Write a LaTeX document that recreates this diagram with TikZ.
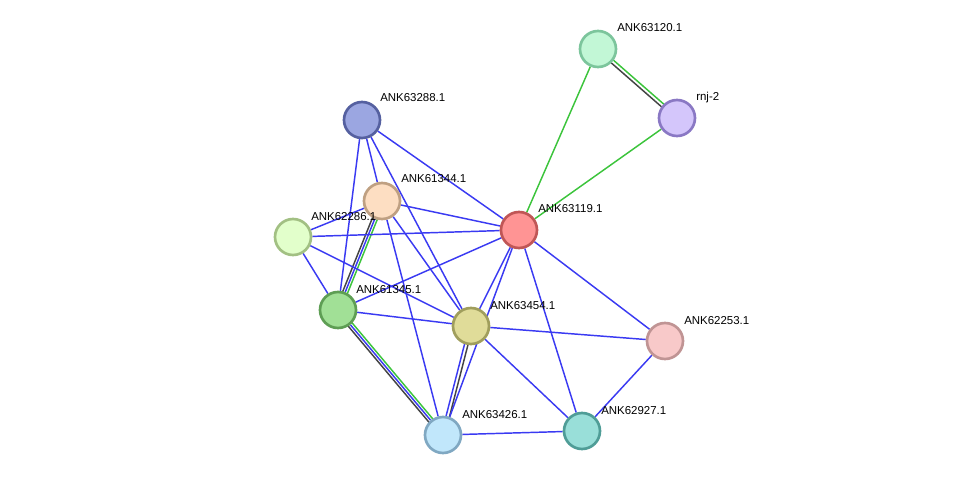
\documentclass[tikz,border=0pt]{standalone}
\usepackage{fontspec}
\setmainfont{Liberation Sans}
\usepackage{tikz}
\usetikzlibrary{calc,backgrounds}
\definecolor{EdgeBlue}{HTML}{3A3AF2}
\definecolor{EdgeGreen}{HTML}{3CC43C}
\definecolor{EdgeBlack}{HTML}{444444}
\definecolor{FillMint}{HTML}{C2F7D6}
\definecolor{LineMint}{HTML}{7CC59C}
\definecolor{FillLilac}{HTML}{D4C6FB}
\definecolor{LineLilac}{HTML}{8A78C4}
\definecolor{FillSlate}{HTML}{9BA6E1}
\definecolor{LineSlate}{HTML}{5560A0}
\definecolor{FillPeach}{HTML}{FDDEC2}
\definecolor{LinePeach}{HTML}{BFA082}
\definecolor{FillLime}{HTML}{E2FFCB}
\definecolor{LineLime}{HTML}{A2C083}
\definecolor{FillRed}{HTML}{FF9494}
\definecolor{LineRed}{HTML}{C05656}
\definecolor{FillGreen}{HTML}{A1E096}
\definecolor{LineGreen}{HTML}{5E9E54}
\definecolor{FillOlive}{HTML}{E0DC99}
\definecolor{LineOlive}{HTML}{A09E5C}
\definecolor{FillPink}{HTML}{F8C9C9}
\definecolor{LinePink}{HTML}{C09494}
\definecolor{FillSky}{HTML}{C1E7FB}
\definecolor{LineSky}{HTML}{80A8C2}
\definecolor{FillTeal}{HTML}{99DFD9}
\definecolor{LineTeal}{HTML}{4F9D97}

\begin{document}
\begin{tikzpicture}[x=0.75pt,y=-0.75pt,
  prot/.style={circle,line width=2pt,minimum size=27pt,inner sep=0pt},
  lbl/.style={anchor=base west,font=\fontsize{8.6pt}{10pt}\selectfont,inner sep=0pt},
  eblue/.style={draw=EdgeBlue,line width=1.1pt},
  egreen/.style={draw=EdgeGreen,line width=1.1pt},
  eblack/.style={draw=EdgeBlack,line width=1.1pt}
]
\useasboundingbox (0,0) rectangle (975,481);

\node[prot,fill=FillMint,draw=LineMint] (p63120) at (598,49) {};
\node[prot,fill=FillLilac,draw=LineLilac] (rnj2) at (677,118) {};
\node[prot,fill=FillSlate,draw=LineSlate] (p63288) at (362,120) {};
\node[prot,fill=FillPeach,draw=LinePeach] (p61344) at (382,201) {};
\node[prot,fill=FillLime,draw=LineLime] (p62286) at (293,237) {};
\node[prot,fill=FillRed,draw=LineRed] (p63119) at (519,230) {};
\node[prot,fill=FillGreen,draw=LineGreen] (p61345) at (338,310) {};
\node[prot,fill=FillOlive,draw=LineOlive] (p63454) at (471,326) {};
\node[prot,fill=FillPink,draw=LinePink] (p62253) at (665,341) {};
\node[prot,fill=FillSky,draw=LineSky] (p63426) at (443,435) {};
\node[prot,fill=FillTeal,draw=LineTeal] (p62927) at (582,431) {};

\node[lbl] (t63120) at (617,32) {ANK63120.1};
\node[lbl] (trnj2) at (696,101) {rnj-2};
\node[lbl] (t63288) at (380,102) {ANK63288.1};
\node[lbl] (t61344) at (401,183) {ANK61344.1};
\node[lbl] (t62286) at (311,220) {ANK62286.1};
\node[lbl] (t63119) at (538,213) {ANK63119.1};
\node[lbl] (t61345) at (356,293) {ANK61345.1};
\node[lbl] (t63454) at (490,309) {ANK63454.1};
\node[lbl] (t62253) at (684,324) {ANK62253.1};
\node[lbl] (t63426) at (462,418) {ANK63426.1};
\node[lbl] (t62927) at (601,414) {ANK62927.1};

\begin{scope}[on background layer]
% green / black pairs at the top
\draw[egreen] ($(p63120)!1.3pt!90:(rnj2)$) -- ($(rnj2)!1.3pt!-90:(p63120)$);
\draw[eblack] ($(p63120)!1.3pt!-90:(rnj2)$) -- ($(rnj2)!1.3pt!90:(p63120)$);
\draw[egreen] (p63120) -- (p63119);
\draw[egreen] (rnj2) -- (p63119);

% triple links
\draw[eblack] ($(p61344)!1.9pt!-90:(p61345)$) -- ($(p61345)!1.9pt!90:(p61344)$);
\draw[eblue] (p61344) -- (p61345);
\draw[egreen] ($(p61344)!1.9pt!90:(p61345)$) -- ($(p61345)!1.9pt!-90:(p61344)$);
\draw[eblack] ($(p61345)!1.9pt!-90:(p63426)$) -- ($(p63426)!1.9pt!90:(p61345)$);
\draw[eblue] (p61345) -- (p63426);
\draw[egreen] ($(p61345)!1.9pt!90:(p63426)$) -- ($(p63426)!1.9pt!-90:(p61345)$);
\draw[eblue] ($(p63454)!1.3pt!-90:(p63426)$) -- ($(p63426)!1.3pt!90:(p63454)$);
\draw[eblack] ($(p63454)!1.3pt!90:(p63426)$) -- ($(p63426)!1.3pt!-90:(p63454)$);

% blue links
\draw[eblue] (p63288) -- (p63119);
\draw[eblue] (p63288) -- (p61345);
\draw[eblue] (p63288) -- (p61344);
\draw[eblue] (p63288) -- (p63454);
\draw[eblue] (p61344) -- (p63119);
\draw[eblue] (p61344) -- (p62286);
\draw[eblue] (p61344) -- (p63454);
\draw[eblue] (p61344) -- (p63426);
\draw[eblue] (p62286) -- (p63119);
\draw[eblue] (p62286) -- (p61345);
\draw[eblue] (p62286) -- (p63454);
\draw[eblue] (p63119) -- (p61345);
\draw[eblue] (p63119) -- (p63454);
\draw[eblue] (p63119) -- (p63426);
\draw[eblue] (p63119) -- (p62253);
\draw[eblue] (p63119) -- (p62927);
\draw[eblue] (p61345) -- (p63454);
\draw[eblue] (p63454) -- (p62253);
\draw[eblue] (p63454) -- (p62927);
\draw[eblue] (p63426) -- (p62927);
\draw[eblue] (p62253) -- (p62927);
\end{scope}
\end{tikzpicture}
\end{document}
